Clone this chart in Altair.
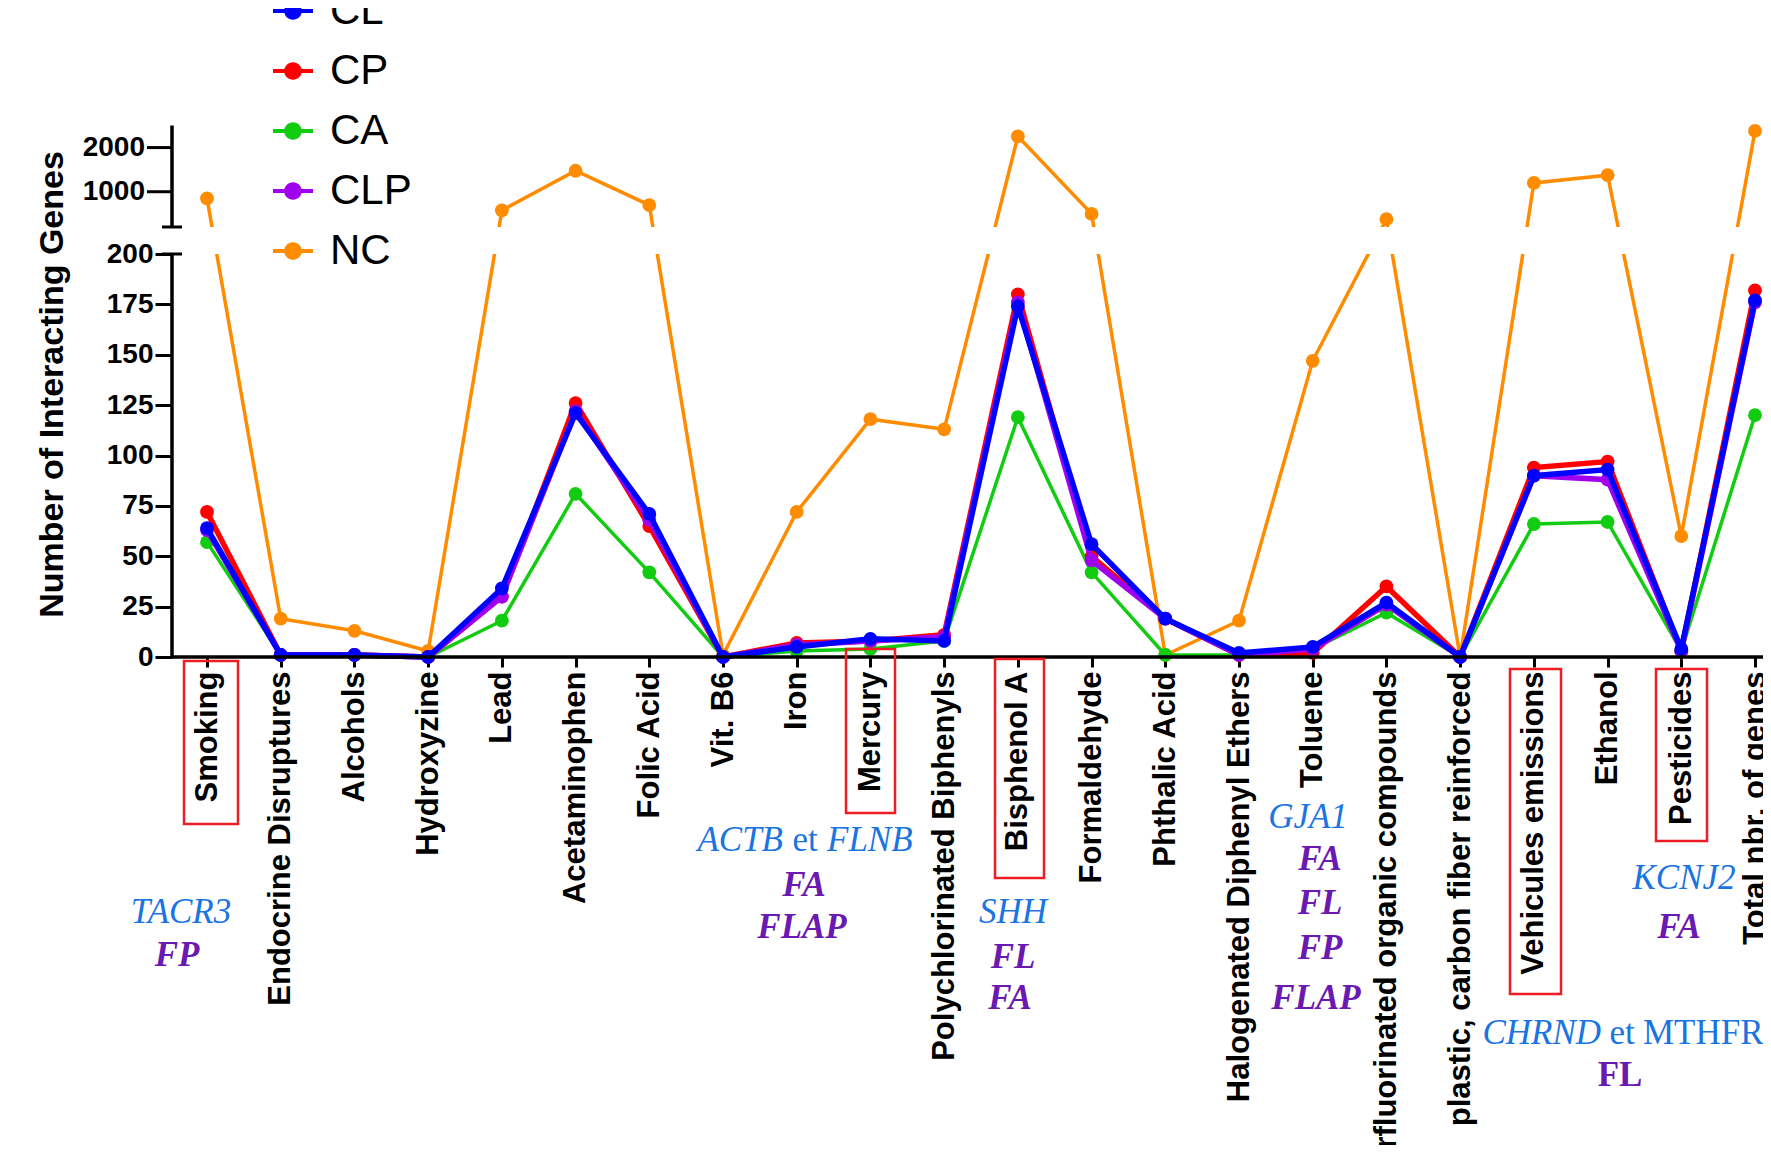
import altair as alt
import pandas as pd

categories = ["Smoking", "Endocrine Disruptures", "Alcohols", "Hydroxyzine", "Lead",
              "Acetaminophen", "Folic Acid", "Vit. B6", "Iron", "Mercury",
              "Polychlorinated Biphenyls", "Bisphenol A", "Formaldehyde", "Phthalic Acid",
              "Halogenated Diphenyl Ethers", "Toluene", "Perfluorinated organic compounds",
              "plastic, carbon fiber reinforced", "Vehicules emissions", "Ethanol",
              "Pesticides", "Total nbr. of genes"]

series_names = ["CL", "CP", "CA", "CLP", "NC"]
series_colors = ["#0000FF", "#FF0000", "#11CC11", "#A000F0", "#FF8C00"]

cl_values = [64, 1, 1, 0, 34, 121, 71, 0, 5, 9, 8, 174, 56, 19, 2, 5, 27, 0, 90, 93, 4, 177]
cp_values = [72, 1, 1, 0, 30, 126, 65, 0, 7, 8, 11, 180, 50, 19, 1, 2, 35, 0, 94, 97, 3, 182]
ca_values = [57, 1, 1, 0, 18, 81, 42, 0, 3, 4, 8, 119, 42, 1, 1, 4, 22, 0, 66, 67, 3, 120]
clp_values = [63, 1, 1, 0, 30, 122, 68, 0, 6, 8, 10, 176, 48, 19, 1, 4, 26, 0, 90, 88, 3, 176]
nc_values = [850, 19, 13, 3, 578, 1475, 698, 1, 72, 118, 113, 2255, 498, 1, 18, 147, 378, 0,
             1200, 1375, 60, 2378]

lower_ticks = [0, 25, 50, 75, 100, 125, 150, 175, 200]
upper_ticks = [1000, 2000]
break_low, break_high, axis_top = 200, 201, 2500

boxed = ["Smoking", "Mercury", "Bisphenol A", "Vehicules emissions", "Pesticides"]

values_by_series = {"CL": cl_values, "CP": cp_values, "CA": ca_values,
                    "CLP": clp_values, "NC": nc_values}
color_of = dict(zip(series_names, series_colors))
rows = []
for s in series_names:
    for c, v in zip(categories, values_by_series[s]):
        rows.append({"cat": c, "series": s, "value": v})
df = pd.DataFrame(rows)

# ---------------- layout ----------------
W, H = 1591, 557
xscale = alt.Scale(type="point", domain=categories, range=[35, 1583], padding=0)
yscale = alt.Scale(type="linear", domain=[0, break_low, break_high, axis_top],
                   range=[H, 154, 127, 25.5], nice=False, zero=False)
cscale = alt.Scale(domain=series_names, range=series_colors)

SANS = "Liberation Sans"
SERIF = "Liberation Serif"

xaxis = alt.Axis(labelAngle=-90, labelFontSize=31, labelFont=SANS, labelFontWeight="bold",
                 labelColor="black", tickSize=10, tickWidth=3, tickColor="black",
                 domain=False, title=None, labelPadding=4, labelLimit=1000,
                 labelOverlap=False, grid=False)
yaxis = alt.Axis(values=lower_ticks, labelFontSize=28, labelFont=SANS, labelFontWeight="bold",
                 labelColor="black", tickSize=17, tickWidth=3, tickColor="black",
                 domain=False, grid=False, labelPadding=2, labelOverlap=False,
                 title="Number of Interacting Genes", titleFont=SANS, titleFontSize=34,
                 titleFontWeight="bold", titleColor="black", titleX=-120, titleY=284,
                 titleAngle=-90, titleAlign="center", titleBaseline="middle")


def X():
    return alt.X("cat:N", scale=xscale, axis=xaxis)


def Y(field):
    return alt.Y(field, scale=yscale, axis=yaxis)


legend_symbol = ("M-1,-0.1L1,-0.1L1,0.1L-1,0.1Z "
                 "M-0.44,0A0.44,0.44,0,1,1,0.44,0A0.44,0.44,0,1,1,-0.44,0Z")
legend = alt.Legend(orient="none", legendX=100, legendY=-110, title=None,
                    labelFontSize=42, labelFont=SANS, labelColor="black",
                    symbolType=legend_symbol, symbolSize=1600, symbolStrokeWidth=0,
                    symbolOpacity=1, rowPadding=18, labelOffset=16, padding=0,
                    direction="vertical")

widths = {"CL": 5.5, "CP": 5.5, "CA": 3.5, "CLP": 5.5, "NC": 3.5}
draw_order = ["NC", "CA", "CP", "CLP", "CL"]
POINT_SIZE = 190

base = alt.Chart(df)
layers = []
for s in draw_order:
    sub = base.transform_filter(alt.datum.series == s)
    line = sub.mark_line(strokeWidth=widths[s], color=color_of[s]).encode(
        x=X(), y=Y("value:Q"))
    layers.append(line)
    if s == "CL":
        pts = sub.mark_circle(size=POINT_SIZE, opacity=1).encode(
            x=X(), y=Y("value:Q"),
            color=alt.Color("series:N", scale=cscale, legend=legend))
    else:
        pts = sub.mark_circle(size=POINT_SIZE, opacity=1, color=color_of[s]).encode(
            x=X(), y=Y("value:Q"))
    layers.append(pts)

# white band creating the axis break
mask_df = pd.DataFrame({"lo": [break_low], "hi": [break_high]})
layers.append(alt.Chart(mask_df).mark_rect(fill="white").encode(
    x=alt.value(3), x2=alt.value(W), y=Y("lo:Q"), y2="hi:Q"))

# axis lines
yline_df = pd.DataFrame({"a": [0, break_high], "b": [break_low, axis_top]})
layers.append(alt.Chart(yline_df).mark_rule(color="black", strokeWidth=3.5).encode(
    x=alt.value(0), y=Y("a:Q"), y2="b:Q"))
xline_df = pd.DataFrame({"v": [0]})
layers.append(alt.Chart(xline_df).mark_rule(color="black", strokeWidth=3.5).encode(
    x=alt.value(0), x2=alt.value(W), y=Y("v:Q")))
cap_df = pd.DataFrame({"v": [break_low, break_high]})
layers.append(alt.Chart(cap_df).mark_rule(color="black", strokeWidth=3).encode(
    x=alt.value(-10), x2=alt.value(10), y=Y("v:Q")))
up_df = pd.DataFrame({"v": upper_ticks, "lab": [str(t) for t in upper_ticks]})
layers.append(alt.Chart(up_df).mark_rule(color="black", strokeWidth=3).encode(
    x=alt.value(-25), x2=alt.value(0), y=Y("v:Q")))
layers.append(alt.Chart(up_df).mark_text(align="right", baseline="middle", font=SANS,
                                         fontWeight="bold", fontSize=28, color="black").encode(
    x=alt.value(-27), y=Y("v:Q"), text="lab:N"))

# red boxes around selected labels
box_df = pd.DataFrame({
    "cat": boxed,
    "x0": [12, 674, 823, 1338, 1484],
    "x1": [66, 723, 872, 1389, 1535],
    "y0": [561, 549, 559, 569, 569],
    "y1": [724, 713, 778, 894, 741],
})
layers.append(alt.Chart(box_df).mark_rect(fill="white", fillOpacity=0, stroke="#EE1C25",
                                          strokeWidth=2.5).encode(
    x=alt.X("x0:Q", scale=None), x2="x1:Q",
    y=alt.Y("y0:Q", scale=None), y2="y1:Q"))

# gene / model annotations
BLUE = "#1A74E2"
PURPLE = "#6A19B2"


def text_layer(items, **kw):
    d = pd.DataFrame(items, columns=["label", "px", "py"])
    return alt.Chart(d).mark_text(baseline="middle", font=SERIF, fontSize=35, **kw).encode(
        x=alt.X("px:Q", scale=None),
        y=alt.Y("py:Q", scale=None),
        text="label:N")


genes_center = [["TACR3", 9, 812], ["SHH", 841, 812], ["GJA1", 1136, 717], ["KCNJ2", 1512, 778]]
genes_right = [["ACTB", 611, 740], ["CHRND", 1429, 933]]
genes_left = [["FLNB", 655, 740]]
et_center = [["et", 633, 740], ["et", 1450, 933]]
plain_left = [["MTHFR", 1471, 933]]
models_bi = [["FP", 5, 855], ["FA", 632, 785], ["FLAP", 630, 827],
             ["FL", 841, 857], ["FA", 838, 898],
             ["FA", 1148, 759], ["FL", 1148, 803], ["FP", 1148, 848], ["FLAP", 1144, 898],
             ["FA", 1507, 827]]
models_b = [["FL", 1448, 975]]

layers.append(text_layer(genes_center, align="center", fontStyle="italic", color=BLUE))
layers.append(text_layer(genes_right, align="right", fontStyle="italic", color=BLUE))
layers.append(text_layer(genes_left, align="left", fontStyle="italic", color=BLUE))
layers.append(text_layer(et_center, align="center", color=BLUE))
layers.append(text_layer(plain_left, align="left", color=BLUE))
layers.append(text_layer(models_bi, align="center", fontStyle="italic", fontWeight="bold",
                         color=PURPLE))
layers.append(text_layer(models_b, align="center", fontWeight="bold", color=PURPLE))

chart = alt.layer(*layers).properties(
    width=W, height=H,
    autosize=alt.AutoSizeParams(type="none"),
    padding={"left": 164, "top": 92, "right": 0, "bottom": 488},
).configure_view(stroke=None)

chart.save("out.html", embed_options={"renderer": "svg", "actions": False})
